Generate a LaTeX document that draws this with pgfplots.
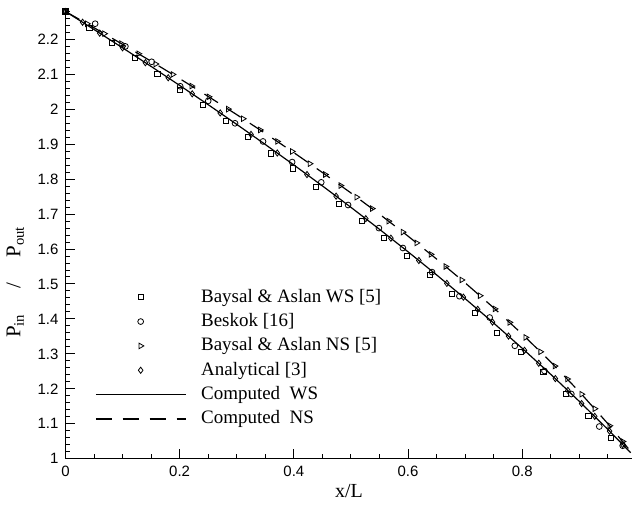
\documentclass[border=0pt]{standalone}
\usepackage{pgfplots}
\pgfplotsset{compat=1.18}
\usepackage{fontspec}
\setmainfont{Liberation Serif}
\newfontfamily\tickfont{Liberation Sans}
\begin{document}
\begin{tikzpicture}
\begin{axis}[
  scale only axis, width=284pt, height=225.75pt,
  xmin=0, xmax=0.993, ymin=1, ymax=2.29,
  axis x line*=bottom, axis y line*=left,
  tick align=inside,
  xtick={0,0.2,0.4,0.6,0.8},
  minor xtick={0.05,0.1,0.15,0.25,0.3,0.35,0.45,0.5,0.55,0.65,0.7,0.75,0.85,0.9,0.95},
  ytick={1,1.1,1.2,1.3,1.4,1.5,1.6,1.7,1.8,1.9,2,2.1,2.2},
  minor y tick num=4,
  extra y ticks={2.22,2.24,2.26,2.28}, extra y tick labels={},
  extra y tick style={major tick length=2.5pt},
  major tick length=5pt, minor tick length=2.5pt,
  every tick/.style={black, line width=0.5pt},
  axis line style={line width=0.6pt},
  /pgf/number format/assume math mode=true,
  tick label style={font=\tickfont\fontsize{7.5}{9}\selectfont},
  xlabel={x/L},
  xlabel style={font=\fontsize{10}{12}\selectfont, yshift=3pt},
  ylabel={P\textsubscript{in}\hspace{1.2em}/\hspace{1.2em}P\textsubscript{out}},
  ylabel style={font=\fontsize{10.5}{12}\selectfont, at={(ticklabel cs:0.392)}},
  clip=false,
  legend cell align=left,
  legend image code/.code={\draw[mark repeat=2,mark phase=2,#1] plot coordinates {(0pt,0pt) (22.5pt,0pt) (45pt,0pt)};},
  legend style={draw=none, fill=none, at={(axis cs:0.052,1.497)}, anchor=north west,
    inner sep=0pt, outer sep=0pt, row sep=0pt,
    font=\fontsize{9.5}{11}\selectfont,
    nodes={inner sep=0pt, text height=8.6pt, text depth=3.6pt},
    /tikz/every odd column/.append style={column sep=7.5pt}},
]
% Baysal & Aslan WS [5]
\addplot[only marks, mark=square, mark size=1.3pt, mark options={line width=0.4pt}, black] coordinates {
(0,2.28) (0.042,2.234) (0.082,2.190) (0.122,2.146) (0.161,2.101) (0.201,2.056) (0.241,2.013)
(0.281,1.966) (0.320,1.921) (0.360,1.874) (0.399,1.831) (0.439,1.777) (0.479,1.729)
(0.519,1.680) (0.558,1.631) (0.598,1.580) (0.638,1.526) (0.677,1.471) (0.717,1.417)
(0.756,1.360) (0.797,1.306) (0.837,1.249) (0.876,1.186) (0.916,1.123) (0.955,1.060)};
\addlegendentry{Baysal \& Aslan WS [5]}
% Beskok [16]
\addplot[only marks, mark=o, mark size=1.45pt, mark options={line width=0.4pt}, black] coordinates {
(0,2.28) (0.052,2.245) (0.105,2.180) (0.151,2.136) (0.201,2.066) (0.250,2.024) (0.297,1.960)
(0.346,1.908) (0.397,1.849) (0.448,1.791) (0.495,1.726) (0.549,1.660) (0.591,1.603)
(0.642,1.534) (0.690,1.465) (0.743,1.404) (0.787,1.323) (0.839,1.251) (0.886,1.185)
(0.935,1.092) (0.976,1.037)};
\addlegendentry{Beskok [16]}
% Baysal & Aslan NS [5]
\addplot[only marks, mark=triangle, mark size=1.6pt, mark options={rotate=-90, line width=0.4pt}, black] coordinates {
(0,2.28) (0.038,2.2447) (0.068,2.2165) (0.098,2.1879) (0.128,2.1590) (0.158,2.1296)
(0.188,2.0998) (0.221,2.0665) (0.251,2.0358) (0.285,2.0005) (0.311,1.9730) (0.341,1.9408)
(0.371,1.9081) (0.397,1.8793) (0.428,1.8443) (0.455,1.8133) (0.482,1.7818) (0.510,1.7485)
(0.537,1.7158) (0.566,1.6799) (0.591,1.6484) (0.615,1.6175) (0.640,1.5848) (0.666,1.5499)
(0.694,1.5115) (0.726,1.4664) (0.752,1.4287) (0.778,1.3900) (0.806,1.3470) (0.832,1.3059)
(0.857,1.2651) (0.879,1.2280) (0.904,1.1845) (0.927,1.1430) (0.953,1.0942) (0.976,1.0491)};
\addlegendentry{Baysal \& Aslan NS [5]}
% Analytical [3]
\addplot[only marks, mark=diamond, mark size=1.55pt, mark options={line width=0.4pt}, black] coordinates {
(0,2.28) (0.030,2.2491) (0.060,2.2180) (0.100,2.1760) (0.140,2.1334) (0.180,2.0903)
(0.222,2.0443) (0.271,1.9896) (0.325,1.9282) (0.371,1.8749) (0.423,1.8132) (0.474,1.7514)
(0.526,1.6869) (0.570,1.6310) (0.619,1.5672) (0.668,1.5018) (0.697,1.4622) (0.722,1.4276)
(0.748,1.3910) (0.776,1.3509) (0.804,1.3101) (0.829,1.2730) (0.858,1.2292) (0.880,1.1953)
(0.904,1.1577) (0.927,1.1211) (0.953,1.0788) (0.976,1.0406)};
\addlegendentry{Analytical [3]}
% Computed WS
\addplot[black, line width=0.6pt] coordinates {
(0,2.28) (0.05,2.2284) (0.1,2.1760) (0.15,2.1227) (0.2,2.0684) (0.25,2.0132) (0.3,1.9568)
(0.35,1.8993) (0.4,1.8407) (0.45,1.7807) (0.5,1.7194) (0.55,1.6565) (0.6,1.5922)
(0.65,1.5261) (0.7,1.4581) (0.75,1.3881) (0.8,1.3159) (0.85,1.2413) (0.9,1.1640)
(0.95,1.0837) (0.99,1.0170)};
\addlegendentry{Computed\ \ WS}
% Computed NS
\addplot[black, line width=0.6pt, dash pattern=on 8pt off 5.5pt] coordinates {
(0,2.28) (0.05,2.2335) (0.1,2.1860) (0.15,2.1375) (0.2,2.0878) (0.25,2.0369) (0.3,1.9847)
(0.35,1.9311) (0.4,1.8760) (0.45,1.8191) (0.5,1.7605) (0.55,1.6999) (0.6,1.6370)
(0.65,1.5715) (0.7,1.5033) (0.75,1.4317) (0.8,1.3565) (0.85,1.2767) (0.9,1.1917)
(0.95,1.1001) (0.99,1.0208)};
\addlegendentry{Computed\ \ NS}
\end{axis}
\path (current axis.north west) ++(0,4pt);
\end{tikzpicture}
\end{document}
